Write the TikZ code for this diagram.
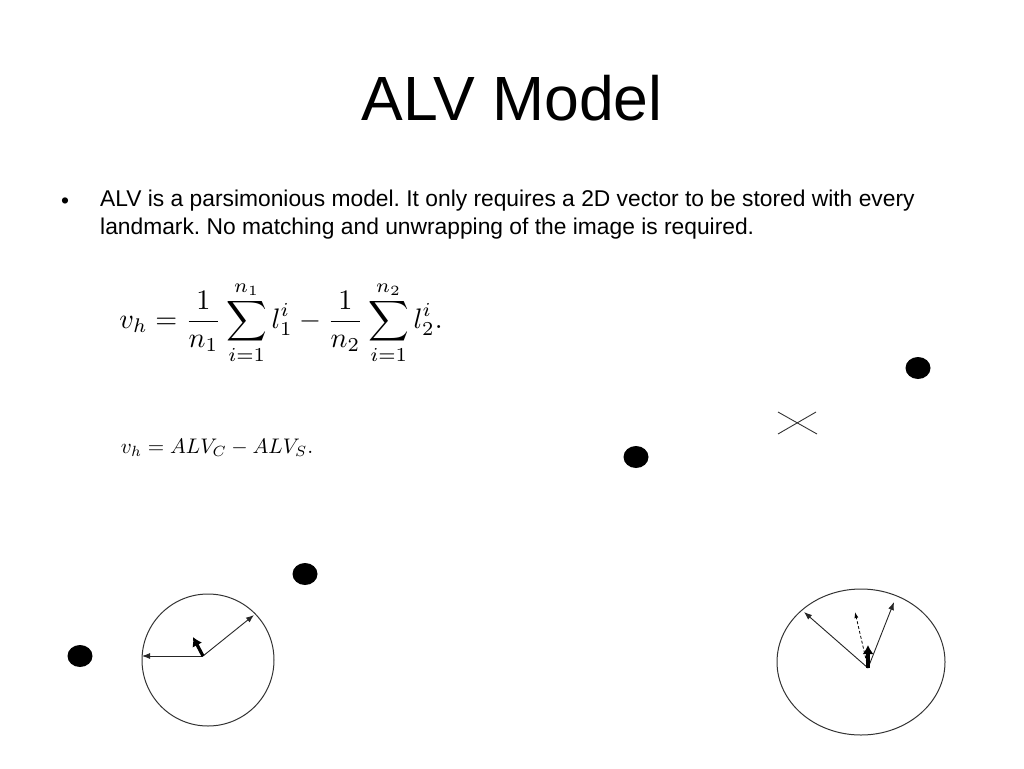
\documentclass[tikz,border=0pt]{standalone}
\usepackage{amsmath}
\usepackage{graphicx}
\usepackage{fontspec}
\setmainfont{Liberation Sans}
\usetikzlibrary{arrows.meta,positioning}
\frenchspacing
\tikzset{
  landmark/.style={fill=black},
  rim/.style={draw=black!80,line width=1pt},
  vec/.style={-{Latex[length=8pt,width=6pt]},line width=0.9pt,draw=black!85},
  estvec/.style={-{Latex[length=6pt,width=4pt]},line width=0.8pt,dashed,dash pattern=on 3pt off 2pt},
  homevec/.style={-{Latex[length=9pt,width=11pt]},line width=3.2pt},
  body/.style={font=\fontsize{22.8}{27.5}\selectfont},
}
\begin{document}
\begin{tikzpicture}[x=1pt,y=-1pt]
  \useasboundingbox (0,0) rectangle (1024,768);
  % title and bullet
  \node[font=\fontsize{62.5}{70}\selectfont,anchor=base] (title) at (512,120) {ALV Model};
  \node[body,anchor=base] (bul) at (65,208) {\textbullet};
  \node[body,anchor=north west,align=left,inner sep=0pt] (txt) at (100,190)
    {ALV is a parsimonious model. It only requires a 2D vector to be stored with every\\
     landmark. No matching and unwrapping of the image is required.};
  % equations
  \node (eqsum) at (281,323)
    {\scalebox{2.82}{$\displaystyle v_h=\frac{1}{n_1}\sum_{i=1}^{n_1}l_1^i-\frac{1}{n_2}\sum_{i=1}^{n_2}l_2^i.$}};
  \node (eqalv) at (217,448) {\scalebox{2.11}{$v_h=ALV_C-ALV_S.$}};
  % landmarks
  \foreach \n/\x/\y in {a/918/368,b/636/457,c/305/574,d/80/656}
    \fill[landmark] (\x,\y) coordinate (lm-\n) ellipse [x radius=12.5pt,y radius=11pt];
  % goal
  \draw[rim,line width=0.9pt] (778,412) -- (817,434) (778,434) -- (816,412);
  % snapshot at the goal
  \draw[rim] (208,660) circle [radius=66pt];
  \coordinate (c1) at (203,656);
  \coordinate (c1-w) at (142,656);
  \coordinate (c1-ne) at (254,615);
  \coordinate (c1-h) at (193,637);
  \draw[vec] (c1) -- (c1-w);
  \draw[vec] (c1) -- (c1-ne);
  \draw[homevec] (c1) -- (c1-h);
  % snapshot at the current place
  \draw[rim] (861,662) ellipse [x radius=84pt,y radius=73pt];
  \coordinate (c2) at (868,668);
  \coordinate (c2-nw) at (804,612);
  \coordinate (c2-ne) at (894,602);
  \coordinate (c2-e) at (855,612);
  \coordinate (c2-h) at (868,645);
  \draw[vec] (c2) -- (c2-nw);
  \draw[vec] (c2) -- (c2-ne);
  \draw[estvec] (c2) -- (c2-e);
  \draw[homevec] (c2) -- (c2-h);
\end{tikzpicture}
\end{document}
